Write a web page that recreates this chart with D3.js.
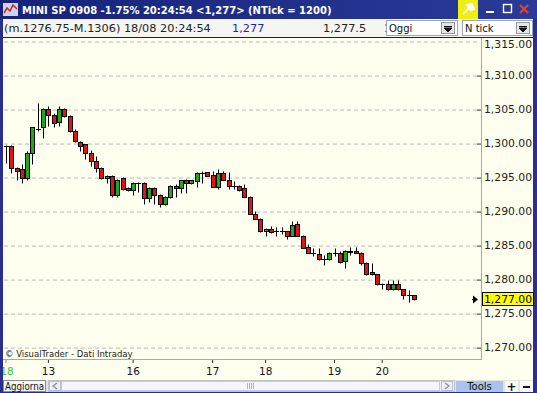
<!DOCTYPE html>
<html>
<head>
<meta charset="utf-8">
<script src="https://cdn.jsdelivr.net/npm/d3@7"></script>
<style>
body { margin: 0; overflow: hidden; background: #fff; }
text { font-family: "DejaVu Sans", Verdana, sans-serif; }
</style>
</head>
<body>
<div id="chart"></div>
<script>
// candle values (one entry per tick group)
const opens = [1299.6, 1299.6, 1296.4, 1296.2, 1294.8, 1298.5, 1302.1, 1302.3, 1305.0, 1304.2,
    1303.1, 1305.0, 1304.0, 1301.8, 1300.1, 1299.8, 1298.5, 1297.3, 1296.3, 1294.9,
    1295.2, 1292.4, 1294.9, 1293.4, 1293.1, 1294.2, 1294.2, 1291.9, 1293.4, 1292.4,
    1291.1, 1292.0, 1293.7, 1293.4, 1294.5, 1294.1, 1294.4, 1295.6, 1295.7, 1295.3,
    1293.6, 1295.6, 1294.5, 1293.7, 1293.7, 1293.4, 1292.1, 1289.6, 1288.9, 1287.0,
    1287.4, 1287.0, 1287.0, 1287.0, 1286.4, 1288.1, 1286.4, 1284.7, 1283.8, 1283.7,
    1282.9, 1282.9, 1283.9, 1283.9, 1282.7, 1284.0, 1284.2, 1283.9, 1282.4, 1281.0,
    1280.7, 1279.3, 1279.3, 1278.5, 1279.3, 1278.5, 1277.6, 1277.6];
const highs = [1299.7, 1299.7, 1296.5, 1296.9, 1298.9, 1302.4, 1305.9, 1305.2, 1305.5, 1304.4,
    1305.5, 1305.2, 1304.1, 1302.0, 1300.3, 1299.9, 1299.0, 1298.1, 1296.5, 1295.3,
    1295.3, 1294.7, 1295.0, 1293.5, 1294.3, 1294.3, 1294.3, 1293.5, 1293.5, 1292.5,
    1292.2, 1293.8, 1294.0, 1294.6, 1294.7, 1294.6, 1295.7, 1295.9, 1295.8, 1295.9,
    1296.2, 1295.9, 1295.7, 1294.4, 1293.9, 1294.0, 1292.2, 1290.0, 1289.0, 1287.5,
    1287.8, 1287.6, 1287.6, 1287.1, 1288.6, 1288.6, 1286.5, 1285.2, 1284.5, 1284.5,
    1283.5, 1284.0, 1284.5, 1284.2, 1284.3, 1284.7, 1284.7, 1284.0, 1282.5, 1282.3,
    1280.8, 1279.4, 1279.8, 1279.8, 1279.8, 1278.6, 1278.4, 1277.7];
const lows = [1297.1, 1295.6, 1294.6, 1294.1, 1294.5, 1296.9, 1301.8, 1300.8, 1302.5, 1302.3,
    1302.5, 1303.8, 1301.6, 1300.1, 1298.9, 1297.7, 1296.6, 1295.8, 1294.7, 1294.1,
    1292.0, 1292.0, 1293.1, 1293.0, 1292.3, 1292.8, 1291.1, 1291.3, 1291.1, 1290.6,
    1290.9, 1291.9, 1292.0, 1292.7, 1292.7, 1294.0, 1293.5, 1294.1, 1295.1, 1293.5,
    1293.3, 1294.5, 1293.3, 1293.3, 1293.0, 1292.0, 1289.5, 1288.8, 1286.9, 1286.4,
    1286.8, 1286.4, 1286.6, 1285.9, 1286.3, 1286.3, 1284.5, 1283.8, 1283.4, 1282.8,
    1282.1, 1282.8, 1283.4, 1282.4, 1281.6, 1283.6, 1283.8, 1282.1, 1280.6, 1280.6,
    1279.2, 1278.6, 1278.4, 1278.4, 1278.4, 1277.1, 1276.7, 1276.9];
const closes = [1299.6, 1296.4, 1295.9, 1294.8, 1298.5, 1302.3, 1302.1, 1305.0, 1304.2, 1303.0,
    1305.0, 1304.0, 1301.8, 1300.3, 1299.5, 1298.5, 1297.3, 1296.3, 1294.9, 1295.2,
    1292.4, 1294.6, 1293.3, 1293.1, 1294.2, 1294.2, 1291.9, 1293.4, 1292.4, 1291.1,
    1292.1, 1293.7, 1293.4, 1294.5, 1294.1, 1294.5, 1295.6, 1295.6, 1295.2, 1293.6,
    1295.6, 1294.6, 1293.7, 1293.7, 1293.1, 1292.1, 1289.6, 1288.9, 1287.0, 1287.4,
    1286.9, 1287.0, 1287.0, 1286.4, 1288.0, 1286.4, 1284.6, 1283.9, 1283.8, 1282.9,
    1282.9, 1283.9, 1283.9, 1282.5, 1284.2, 1284.2, 1283.9, 1282.4, 1280.7, 1280.7,
    1279.3, 1279.3, 1278.5, 1279.3, 1278.5, 1277.6, 1277.6, 1277.1];

// hour labels on the time axis, placed at candle index
const tickIndex = [0, 8, 24, 39, 49, 62, 71];
const tickLabels = ["18", "13", "16", "17", "18", "19", "20"];

const priceTicks = [1270, 1275, 1280, 1285, 1290, 1295, 1300, 1305, 1310, 1315];
const lastPrice = 1277;

const W = 537, H = 393;
const plot = { left: 3, right: 481, top: 38, bottom: 359 };

const svg = d3.select("#chart")
    .append("svg")
    .attr("width", W)
    .attr("height", H);

const defs = svg.append("defs");
const tg = defs.append("linearGradient").attr("id", "titlegrad");
tg.append("stop").attr("offset", "0%").attr("stop-color", "#16237a");
tg.append("stop").attr("offset", "100%").attr("stop-color", "#2a3a98");
defs.append("clipPath").attr("id", "plotclip")
    .append("rect")
    .attr("x", plot.left).attr("y", plot.top)
    .attr("width", plot.right - plot.left).attr("height", plot.bottom - plot.top);
defs.append("clipPath").attr("id", "infoclip")
    .append("rect")
    .attr("x", 3).attr("y", 19).attr("width", 383).attr("height", 18);

// window frame + title bar
svg.append("rect").attr("width", W).attr("height", H).attr("fill", "#2b2f8c");
svg.append("rect").attr("width", W).attr("height", 19).attr("fill", "url(#titlegrad)");

// title icon
svg.append("rect").attr("x", 3).attr("y", 3).attr("width", 15).attr("height", 13).attr("fill", "#c9d6ee");
svg.append("polyline")
    .attr("points", "4,13 7,8 10,11 13,5 17,9")
    .attr("fill", "none").attr("stroke", "#d02020").attr("stroke-width", 1.5);

svg.append("text")
    .attr("x", 22).attr("y", 13.5)
    .attr("fill", "#fff").attr("font-size", 10).attr("font-weight", "bold")
    .text("MINI SP 0908 -1.75% 20:24:54 <1,277> (NTick = 1200)");

// title bar buttons
svg.append("rect").attr("x", 458).attr("y", 0).attr("width", 20).attr("height", 19).attr("fill", "#eeee10");
svg.append("path")
    .attr("d", "M463,14 L470,7 M467,5 L472,4 L474,9 L471,10 Z")
    .attr("stroke", "#fff").attr("stroke-width", 2).attr("fill", "#fff");
svg.append("rect").attr("x", 486).attr("y", 11).attr("width", 8).attr("height", 2).attr("fill", "#fff");
svg.append("rect").attr("x", 503.5).attr("y", 4.5).attr("width", 8).attr("height", 8)
    .attr("fill", "none").attr("stroke", "#fff").attr("stroke-width", 1.4);
svg.append("path")
    .attr("d", "M520,5 L528,13 M528,5 L520,13")
    .attr("stroke", "#e8402a").attr("stroke-width", 2);

// info row
svg.append("rect").attr("x", 3).attr("y", 19).attr("width", 530).attr("height", 18).attr("fill", "#f5f5f2");
svg.append("line").attr("x1", 3).attr("x2", 533).attr("y1", 37.5).attr("y2", 37.5).attr("stroke", "#222");

const info = svg.append("g").attr("font-size", 11.3).attr("fill", "#222").attr("clip-path", "url(#infoclip)");
info.append("text").attr("x", 4).attr("y", 31.5).text("(m.1276.75-M.1306) 18/08 20:24:54");
info.append("text").attr("x", 232).attr("y", 31.5).attr("fill", "#2424b4").text("1,277");
info.append("text").attr("x", 323).attr("y", 31.5).text("1,277.5");
info.append("text").attr("x", 384).attr("y", 31.5).text("1,276.7");

function dropdown(x, w, label) {
    const g = svg.append("g");
    g.append("rect").attr("x", x + 0.5).attr("y", 20.5).attr("width", w).attr("height", 15)
        .attr("fill", "#fff").attr("stroke", "#9aa6b8");
    g.append("text").attr("x", x + 3).attr("y", 32).attr("font-size", 10).attr("fill", "#111").text(label);
    const bx = x + w - 16;
    g.append("rect").attr("x", bx + 0.5).attr("y", 22.5).attr("width", 13).attr("height", 11)
        .attr("fill", "#e6e6e6").attr("stroke", "#999");
    g.append("path")
        .attr("d", `M${bx + 3},${26.5} L${bx + 11},${26.5} M${bx + 3},28 L${bx + 11},28 L${bx + 7},32 Z`)
        .attr("stroke", "#111").attr("fill", "#111");
}
dropdown(386, 71, "Oggi");
dropdown(462, 70, "N tick");

// chart background
svg.append("rect").attr("x", 3).attr("y", 38).attr("width", 530).attr("height", 342).attr("fill", "#fffff0");

// scales
const x = d3.scaleBand()
    .domain(d3.range(opens.length))
    .range([3.35, 416.65]);

const y = d3.scaleLinear()
    .domain([1268.25, 1315.45])
    .range([plot.bottom, plot.top]);

// gridlines
svg.append("g")
    .attr("class", "grid")
    .attr("transform", `translate(${plot.right - 4},0)`)
    .call(d3.axisLeft(y).tickValues(priceTicks).tickSize(plot.right - 4 - plot.left).tickFormat(""))
    .call(g => g.select(".domain").remove())
    .call(g => g.selectAll("line")
        .attr("stroke", "#b8b8b8")
        .attr("stroke-dasharray", "4,3")
        .attr("transform", "translate(0,0.5)"));

// tick marks on the price axis
svg.append("g")
    .attr("transform", `translate(${plot.right},0)`)
    .call(d3.axisLeft(y).tickValues(priceTicks.filter(d => d < 1315)).tickSize(4).tickFormat(""))
    .call(g => g.select(".domain").remove())
    .call(g => g.selectAll("line").attr("stroke", "#333").attr("transform", "translate(0,0.5)"));

// plot border
svg.append("line").attr("x1", plot.right + 0.5).attr("x2", plot.right + 0.5)
    .attr("y1", plot.top).attr("y2", plot.bottom + 1).attr("stroke", "#a8a8a8");
svg.append("line").attr("x1", plot.left).attr("x2", plot.right)
    .attr("y1", plot.bottom + 0.5).attr("y2", plot.bottom + 0.5).attr("stroke", "#a8a8a8");

// price labels
svg.append("g")
    .attr("transform", `translate(${plot.right + 2},0)`)
    .call(d3.axisRight(y).tickValues(priceTicks).tickSize(0).tickPadding(1).tickFormat(d3.format(",.2f")))
    .call(g => g.select(".domain").remove())
    .call(g => g.selectAll(".tick").attr("transform", d => `translate(0,${Math.max(y(d), 45)})`))
    .call(g => g.selectAll("text")
        .attr("font-family", "DejaVu Sans, Verdana, sans-serif")
        .attr("font-size", 10.8).attr("fill", "#222"));

// last price marker
const ly = y(lastPrice);
svg.append("rect")
    .attr("x", plot.right + 1.5).attr("y", Math.round(ly) - 6.5)
    .attr("width", 51).attr("height", 13)
    .attr("fill", "#ffff00").attr("stroke", "#000");
svg.append("text")
    .attr("x", plot.right + 3).attr("y", ly).attr("dy", "0.36em")
    .attr("font-size", 10.8).attr("fill", "#000")
    .text(d3.format(",.2f")(lastPrice));
svg.append("path")
    .attr("d", `M${plot.right - 8},${ly - 4} L${plot.right - 3},${ly} L${plot.right - 8},${ly + 4} Z M${plot.right - 9},${ly - 0.5} h2 v1 h-2 Z`)
    .attr("fill", "#000");

// candles
const candles = svg.append("g").attr("clip-path", "url(#plotclip)");
const cx = i => Math.round(x(i) + x.bandwidth() / 2) + 0.5;
const py = v => Math.round(y(v)) + 0.5;

opens.forEach((o, i) => {
    const c = closes[i];
    candles.append("line")
        .attr("x1", cx(i)).attr("x2", cx(i))
        .attr("y1", py(highs[i])).attr("y2", py(lows[i]))
        .attr("stroke", "#000");
    if (Math.round(y(o)) == Math.round(y(c))) {
        candles.append("line")
            .attr("x1", cx(i) - 2.5).attr("x2", cx(i) + 2.5)
            .attr("y1", py(o)).attr("y2", py(o))
            .attr("stroke", "#000");
    } else {
        const top = py(Math.max(o, c)), bot = py(Math.min(o, c));
        candles.append("rect")
            .attr("x", cx(i) - 2).attr("width", 4)
            .attr("y", top).attr("height", bot - top)
            .attr("fill", c > o ? "#1caa1c" : "#e01414")
            .attr("stroke", "#000");
    }
});

// copyright note
svg.append("text")
    .attr("x", 5).attr("y", 357)
    .attr("font-size", 8.5).attr("fill", "#222")
    .text("\u00a9 VisualTrader - Dati Intraday");

// time axis
svg.append("g")
    .attr("transform", `translate(0,${plot.bottom + 1})`)
    .call(d3.axisBottom(x).tickValues(tickIndex).tickSize(3).tickPadding(5)
        .tickFormat(d => tickLabels[tickIndex.indexOf(d)]))
    .call(g => g.select(".domain").remove())
    .call(g => g.selectAll("line").attr("stroke", "#222"))
    .call(g => g.selectAll("text")
        .attr("font-family", "DejaVu Sans, Verdana, sans-serif")
        .attr("font-size", 10.5).attr("fill", "#111"))
    .call(g => g.selectAll(".tick").filter(d => d == 0).select("text").attr("fill", "#3c3").attr("x", 1))
    .call(g => g.selectAll(".tick").filter(d => d == 0).select("line").attr("stroke", "#3c3"));

// left frame over the first label
svg.append("rect").attr("x", 0).attr("y", 19).attr("width", 3).attr("height", H).attr("fill", "#2b2f8c");

// bottom bar
svg.append("rect").attr("x", 3).attr("y", 380).attr("width", 530).attr("height", 12).attr("fill", "#e4e4de");
svg.append("rect").attr("x", 3.5).attr("y", 380.5).attr("width", 42).attr("height", 11)
    .attr("fill", "#f6f6f4").attr("stroke", "#8a8a8a");
svg.append("text").attr("x", 5).attr("y", 390).attr("font-size", 10).attr("fill", "#111")
    .attr("textLength", 39).attr("lengthAdjust", "spacingAndGlyphs").text("Aggiorna");

svg.append("rect").attr("x", 48.5).attr("y", 380.5).attr("width", 406).attr("height", 11)
    .attr("fill", "#f2f2f0").attr("stroke", "#c4c4c4");
svg.append("rect").attr("x", 49.5).attr("y", 381.5).attr("width", 11).attr("height", 9)
    .attr("fill", "#eef0f6").attr("stroke", "#b8c0d0");
svg.append("path").attr("d", "M57,383 L53,386 L57,389").attr("fill", "none").attr("stroke", "#8090b0").attr("stroke-width", 1.3);
svg.append("rect").attr("x", 61.5).attr("y", 381.5).attr("width", 378).attr("height", 9)
    .attr("fill", "#f4f6fb").attr("stroke", "#c2cce0");
[247, 249, 251, 253].forEach(gx => {
    svg.append("line").attr("x1", gx + 0.5).attr("x2", gx + 0.5).attr("y1", 383).attr("y2", 389).attr("stroke", "#a8b4cc");
});
svg.append("rect").attr("x", 441.5).attr("y", 381.5).attr("width", 11).attr("height", 9)
    .attr("fill", "#eef0f6").attr("stroke", "#b8c0d0");
svg.append("path").attr("d", "M445,383 L449,386 L445,389").attr("fill", "none").attr("stroke", "#8090b0").attr("stroke-width", 1.3);

svg.append("rect").attr("x", 456).attr("y", 381).attr("width", 47).attr("height", 11).attr("fill", "#a9c3ea");
svg.append("text").attr("x", 479.5).attr("y", 390).attr("text-anchor", "middle")
    .attr("font-size", 10).attr("fill", "#111").text("Tools");
svg.append("rect").attr("x", 505).attr("y", 381).attr("width", 13).attr("height", 11).attr("fill", "#fafafa");
svg.append("text").attr("x", 511.5).attr("y", 390.5).attr("text-anchor", "middle")
    .attr("font-size", 12).attr("font-weight", "bold").attr("fill", "#111").text("+");
svg.append("rect").attr("x", 520).attr("y", 381).attr("width", 13).attr("height", 11).attr("fill", "#fafafa");
svg.append("rect").attr("x", 523).attr("y", 386).attr("width", 7).attr("height", 2).attr("fill", "#111");
</script>
</body>
</html>
